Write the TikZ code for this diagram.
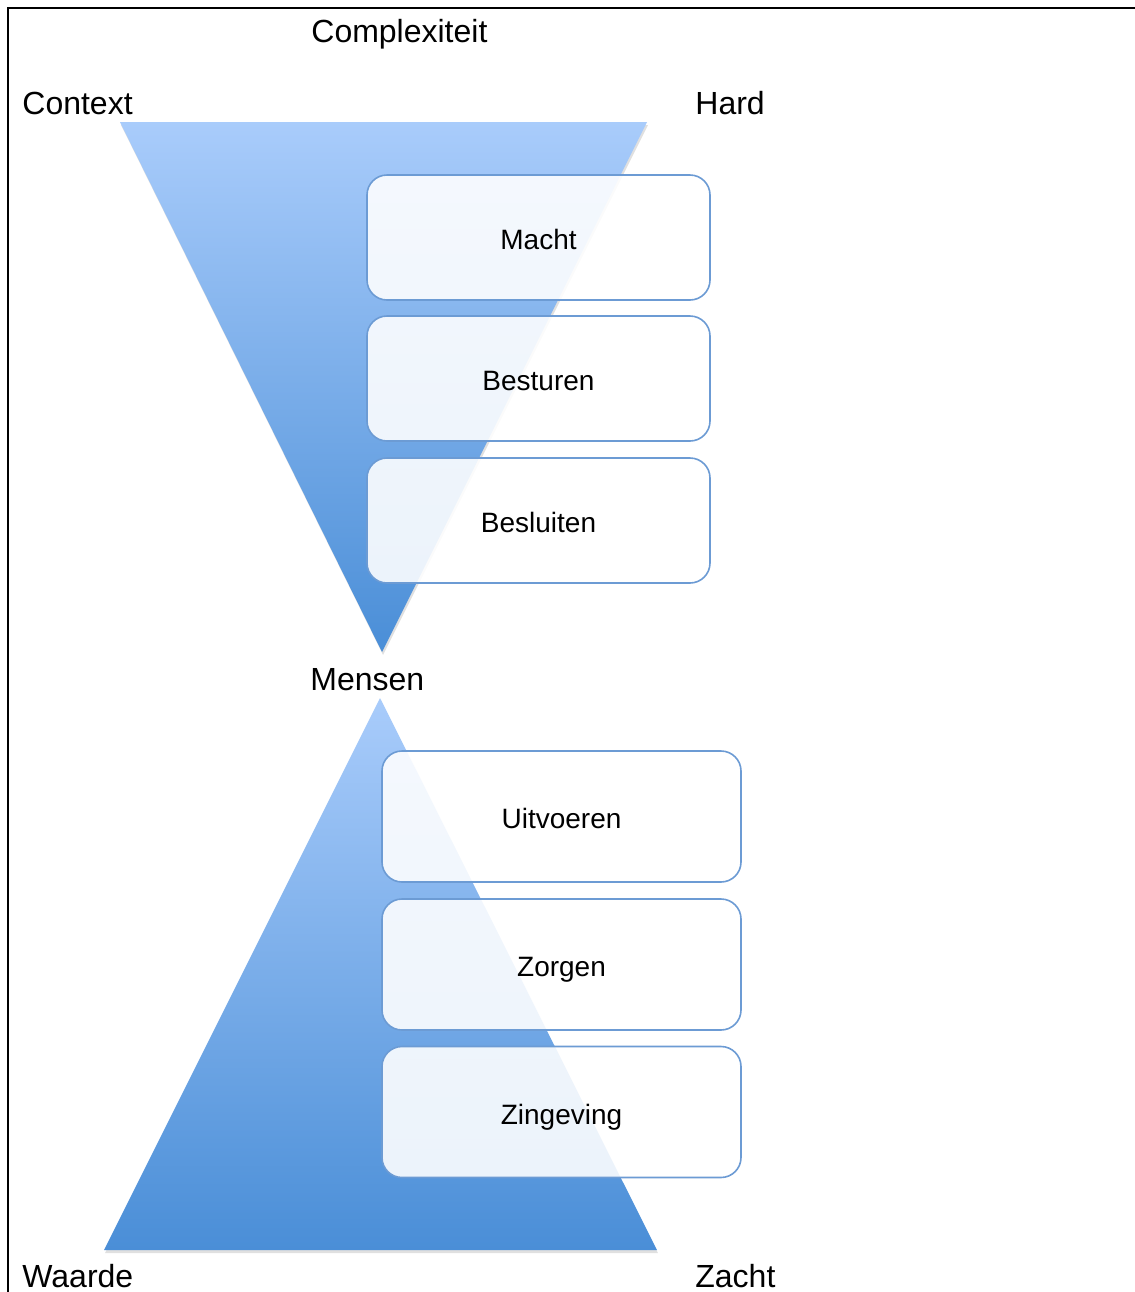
\documentclass[tikz,border=0pt]{standalone}
\usepackage{fontspec}
\setmainfont{Liberation Sans}
\definecolor{triLight}{HTML}{A9CCFB}
\definecolor{triDark}{HTML}{4A8ED7}
\definecolor{boxEdge}{HTML}{6C9BD4}
\tikzset{
  label/.style={inner sep=0pt, font=\fontsize{16}{19}\selectfont, anchor=base west},
  stepbox/.style={draw=boxEdge, line width=0.8pt, fill=white, fill opacity=0.89, text opacity=1,
    rounded corners=10pt, font=\fontsize{14}{17}\selectfont, inner sep=0pt,
    text height=12pt, text depth=0pt},
  topbox/.style={stepbox, minimum width=171.5pt, minimum height=62.5pt},
  botbox/.style={stepbox, minimum width=179.5pt, minimum height=65.5pt},
  shadowtri/.style={fill=black, fill opacity=0.12},
}
\begin{document}
\begin{tikzpicture}[x=0.5pt,y=-0.5pt]
\useasboundingbox (0,0) rectangle (1135,1292);
\fill[white] (0,0) rectangle (1135,1292);
% frame
\draw[line width=1.3pt] (8,1292) -- (8,8) -- (1135,8);
% inverted triangle
\coordinate (tl) at (120,122);
\coordinate (tr) at (647,122);
\coordinate (tb) at (382,652);
\fill[shadowtri] ([shift={(1,3)}]tl) -- ([shift={(1,3)}]tr) -- ([shift={(1,3)}]tb) -- cycle;
\shade[top color=triLight, bottom color=triDark] (tl) -- (tr) -- (tb) -- cycle;
% upright triangle
\coordinate (ua) at (380,698);
\coordinate (ul) at (104,1250);
\coordinate (ur) at (657,1250);
\fill[shadowtri] ([shift={(1,3)}]ua) -- ([shift={(1,3)}]ul) -- ([shift={(1,3)}]ur) -- cycle;
\shade[top color=triLight, bottom color=triDark] (ua) -- (ul) -- (ur) -- cycle;
% boxes
\node[topbox] (macht) at (538.5,237.5) {Macht};
\node[topbox] (besturen) at (538.5,378.5) {Besturen};
\node[topbox] (besluiten) at (538.5,520.5) {Besluiten};
\node[botbox] (uitvoeren) at (561.5,816.5) {Uitvoeren};
\node[botbox] (zorgen) at (561.5,964.5) {Zorgen};
\node[botbox] (zingeving) at (561.5,1112) {Zingeving};
% labels
\node[label] (complex) at (311,42) {Complexiteit};
\node[label] (context) at (22,114) {Context};
\node[label] (hard) at (695,114) {Hard};
\node[label] (mensen) at (310,690) {Mensen};
\node[label] (waarde) at (22,1287) {Waarde};
\node[label] (zacht) at (695,1287) {Zacht};
\end{tikzpicture}
\end{document}
